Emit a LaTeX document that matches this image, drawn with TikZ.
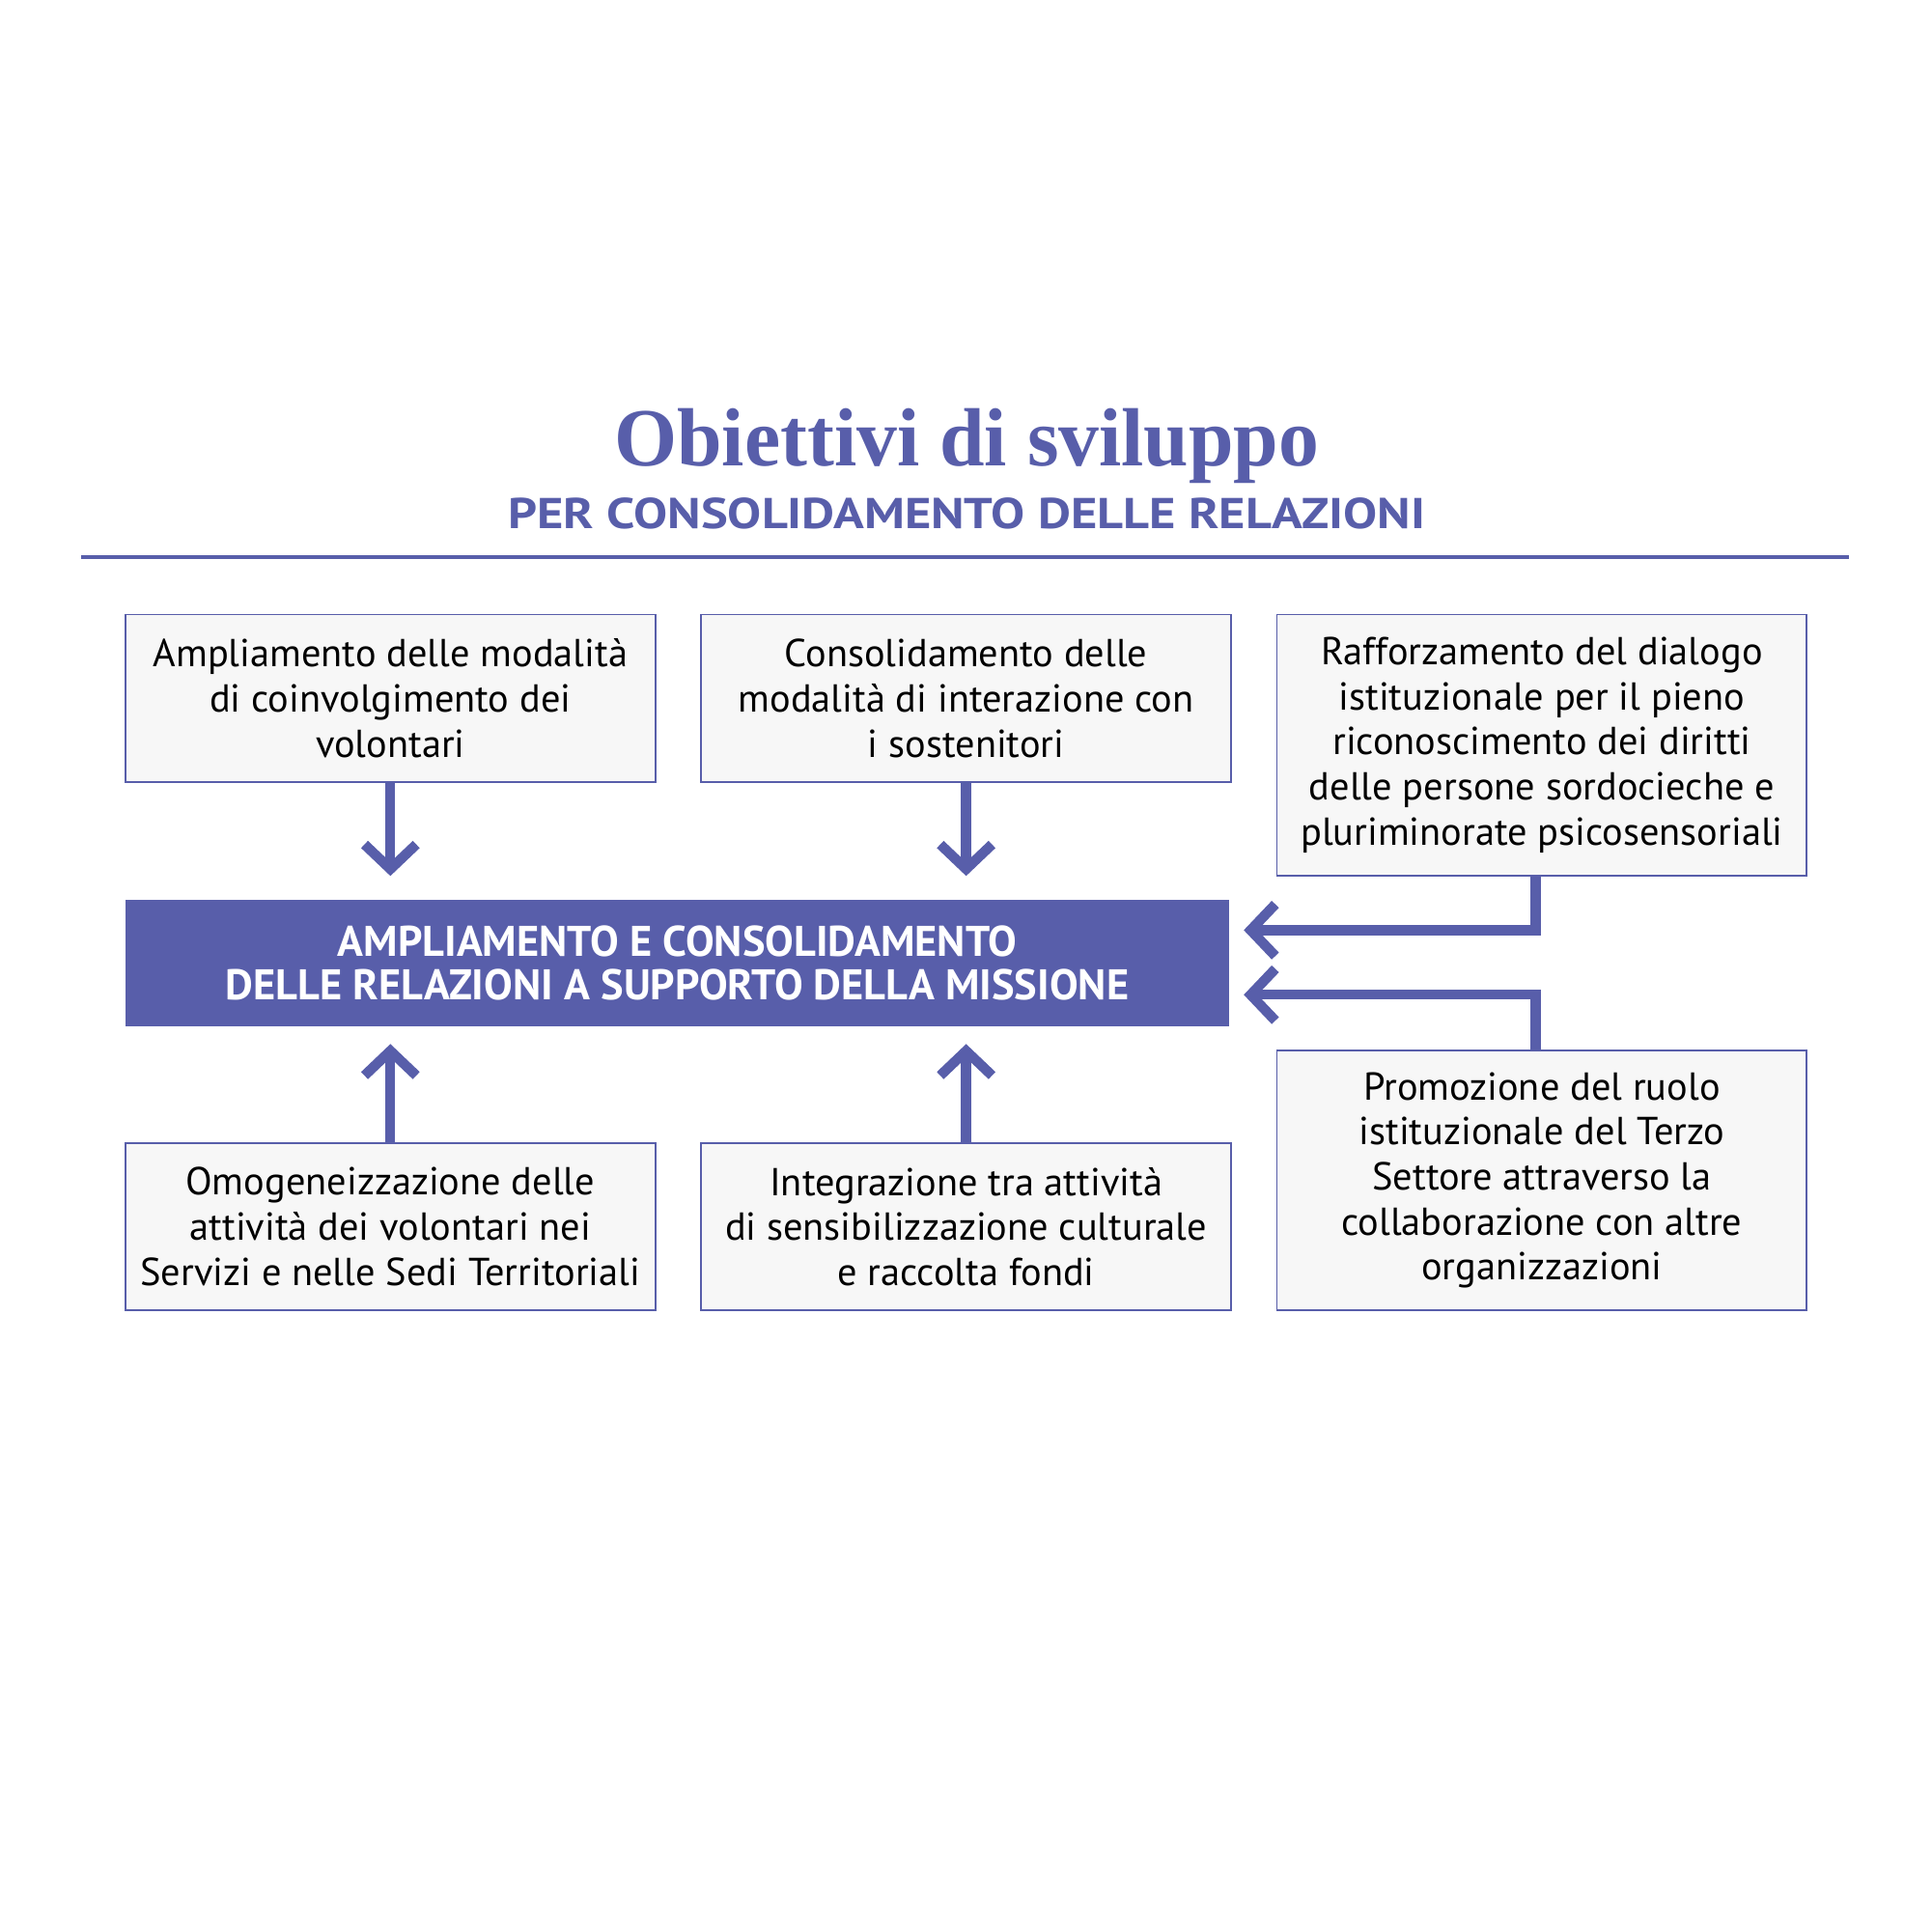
\documentclass[tikz,border=0pt]{standalone}
\usepackage{fontspec}
\setmainfont{PT Sans}
\newfontfamily\titlefont{Liberation Serif}
\usetikzlibrary{arrows.meta,positioning,calc}
\definecolor{mBlue}{RGB}{88,94,170}
\definecolor{mGray}{RGB}{247,247,247}

\tikzset{
  goal/.style={draw=mBlue, line width=0.4pt, fill=mGray, minimum width=4.30cm,
    minimum height=1.36cm, align=center, inner sep=0pt,
    font=\fontsize{9}{10.4}\selectfont},
  core/.style={fill=mBlue, text=white, minimum width=8.96cm, minimum height=1.02cm,
    align=center, inner sep=0pt, font=\bfseries\fontsize{9.9}{10.2}\selectfont},
  flow/.style={draw=mBlue, line width=2.3pt, -{Straight Barb[length=2mm, width=4.2mm]}},
}

\begin{document}
\begin{tikzpicture}[x=0.01cm, y=-0.01cm]
    \useasboundingbox (0,0) rectangle (1568,1568);
    \fill[white] (0,0) rectangle (1568,1568);
    % heading
    \node[anchor=base, text=mBlue, inner sep=0pt] (title) at (785,378)
      {\resizebox{5.72cm}{0.465cm}{\titlefont\bfseries Obiettivi di sviluppo}};
    \node[anchor=base, text=mBlue, inner sep=0pt] (subtitle) at (785,429)
      {\resizebox{7.44cm}{0.25cm}{\bfseries PER CONSOLIDAMENTO DELLE RELAZIONI}};
    \draw[mBlue, line width=0.9pt] (66,452) -- (1501,452);
    % goals
    \node[goal] (volontari) at (317,567) {Ampliamento delle modalità\\di coinvolgimento dei\\volontari};
    \node[goal] (sostenitori) at (784.5,567) {Consolidamento delle\\modalità di interazione con\\i sostenitori};
    \node[goal, minimum height=2.12cm] (dialogo) at (1252,605) {Rafforzamento del dialogo\\istituzionale per il pieno\\riconoscimento dei diritti\\delle persone sordocieche e\\pluriminorate psicosensoriali};
    \node[core] (missione) at (550,782) {AMPLIAMENTO E CONSOLIDAMENTO\\DELLE RELAZIONI A SUPPORTO DELLA MISSIONE};
    \node[goal] (sedi) at (317,996) {Omogeneizzazione delle\\attività dei volontari nei\\Servizi e nelle Sedi Territoriali};
    \node[goal] (fondi) at (784.5,996) {Integrazione tra attività\\di sensibilizzazione culturale\\e raccolta fondi};
    \node[goal, minimum height=2.11cm] (terzo) at (1252,958.5) {Promozione del ruolo\\istituzionale del Terzo\\Settore attraverso la\\collaborazione con altre\\organizzazioni};
    % connectors
    \coordinate (inA) at ($(missione.north east)+(11,25)$);
    \coordinate (inB) at ($(missione.south east)+(11,-26)$);
    \draw[flow, shorten >=1.9mm] (volontari.south) -- (volontari.south |- missione.north);
    \draw[flow, shorten >=1.9mm] (sostenitori.south) -- (sostenitori.south |- missione.north);
    \draw[flow, shorten >=1.4mm] (sedi.north) -- (sedi.north |- missione.south);
    \draw[flow, shorten >=1.4mm] (fondi.north) -- (fondi.north |- missione.south);
    \draw[flow] ([xshift=-0.05cm]dialogo.south) |- (inA);
    \draw[flow] ([xshift=-0.05cm]terzo.north) |- (inB);
\end{tikzpicture}
\end{document}
